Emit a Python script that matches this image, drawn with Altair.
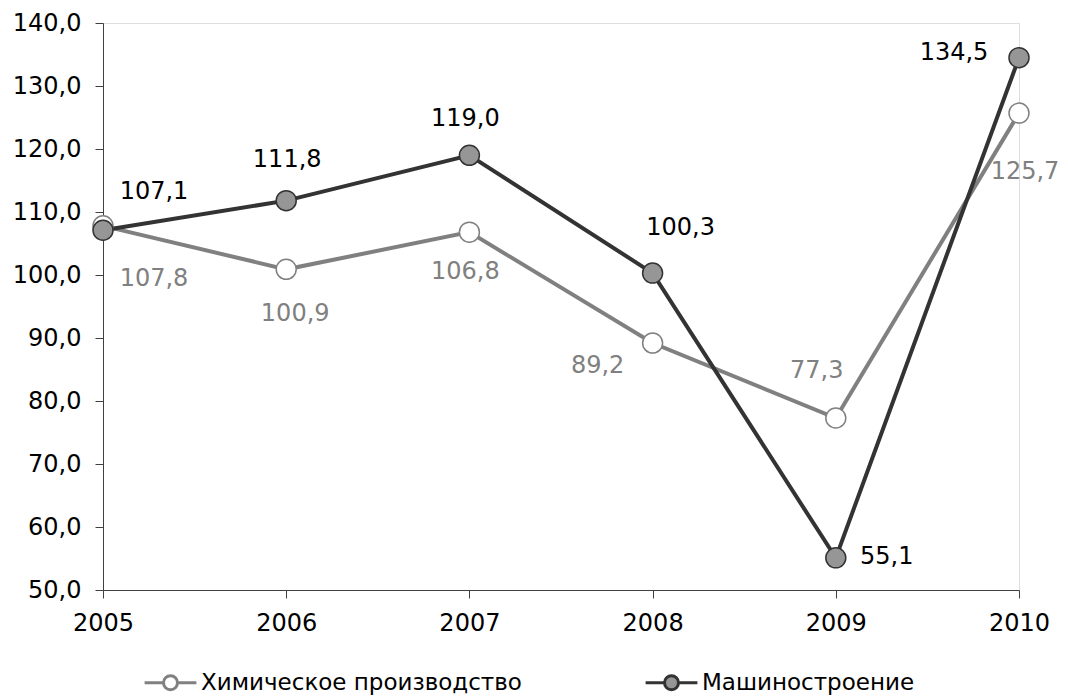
import altair as alt
import pandas as pd

years = [2005, 2006, 2007, 2008, 2009, 2010]
series_names = ["Химическое производство", "Машиностроение"]
chem = [107.8, 100.9, 106.8, 89.2, 77.3, 125.7]
mach = [107.1, 111.8, 119.0, 100.3, 55.1, 134.5]

# label offsets in pixels (dx, dy) for each point label
chem_dx = [51, 9, -4, -55, -19, 6]
chem_dy = [53, 45, 40, 23, -47, 59]
mach_dx = [51, 1, -4, 28, 51, -65]
mach_dy = [-38, -41, -36, -45, -1, -5]

FONT = "Verdana, DejaVu Sans"
FS = 24
line_colors = ["#808080", "#333333"]
fill_colors = ["#ffffff", "#969696"]
label_colors = ["#808080", "#000000"]

rows = []
for name, vals in zip(series_names, [chem, mach]):
    for y, v in zip(years, vals):
        rows.append({"year": y, "value": v, "series": name})
df = pd.DataFrame(rows)

legend_path = "M-3.7,0H-1M1,0H3.7M1,0A1,1,0,1,1,-1,0A1,1,0,1,1,1,0Z"
legend = alt.Legend(
    orient="none", legendX=56, legendY=648, direction="horizontal", title=None,
    symbolType=legend_path, symbolSize=196, symbolStrokeWidth=3,
    labelFontSize=23, labelFont=FONT, labelColor="#000000", labelOffset=19,
    labelLimit=0, columnPadding=117, padding=0,
)

x_enc = alt.X("year:Q",
              scale=alt.Scale(domain=[2005, 2010], nice=False, zero=False),
              axis=alt.Axis(values=years, format="d", title=None, grid=False,
                            tickSize=8, labelPadding=13, labelFontSize=FS,
                            labelFont=FONT, labelColor="#000000",
                            labelFlush=False, labelOverlap=False,
                            domainColor="#404040", tickColor="#404040"))
y_enc = alt.Y("value:Q",
              scale=alt.Scale(domain=[50, 140], nice=False, zero=False),
              axis=alt.Axis(values=list(range(50, 141, 10)),
                            labelExpr="replace(format(datum.value, '.1f'), '.', ',')",
                            title=None, grid=False, tickSize=8, labelPadding=14,
                            labelFontSize=FS, labelFont=FONT, labelColor="#000000",
                            labelFlush=False, labelOverlap=False,
                            domainColor="#404040", tickColor="#404040"))

stroke_scale = alt.Scale(domain=series_names, range=line_colors)
fill_scale = alt.Scale(domain=series_names, range=fill_colors)

base = alt.Chart(df)

lines = base.mark_line(strokeWidth=4).encode(
    x=x_enc, y=y_enc,
    stroke=alt.Stroke("series:N", scale=stroke_scale, legend=legend),
    detail="series:N",
)

points = base.mark_point(size=400, filled=False, strokeWidth=1.5, opacity=1, shape="circle").encode(
    x=x_enc, y=y_enc,
    stroke=alt.Stroke("series:N", scale=stroke_scale, legend=legend),
    fill=alt.Fill("series:N", scale=fill_scale, legend=legend),
)

label_layers = []
for si, (name, dxs, dys) in enumerate(zip(series_names, [chem_dx, mach_dx], [chem_dy, mach_dy])):
    for yi, yr in enumerate(years):
        t = base.transform_filter(
            (alt.datum.series == name) & (alt.datum.year == yr)
        ).transform_calculate(
            label="replace(format(datum.value, '.1f'), '.', ',')"
        ).mark_text(
            dx=dxs[yi], dy=dys[yi], fontSize=FS, font=FONT,
            color=label_colors[si], align="center", baseline="middle"
        ).encode(x=x_enc, y=y_enc, text="label:N")
        label_layers.append(t)

chart = alt.layer(lines, points, *label_layers).properties(
    width=916, height=567,
    autosize=alt.AutoSizeParams(type="none"),
    padding={"left": 95, "top": 15, "right": 41, "bottom": 106},
).configure_view(stroke=None).configure(font=FONT)

chart.save("out.html", embed_options={"renderer": "svg", "actions": False})
